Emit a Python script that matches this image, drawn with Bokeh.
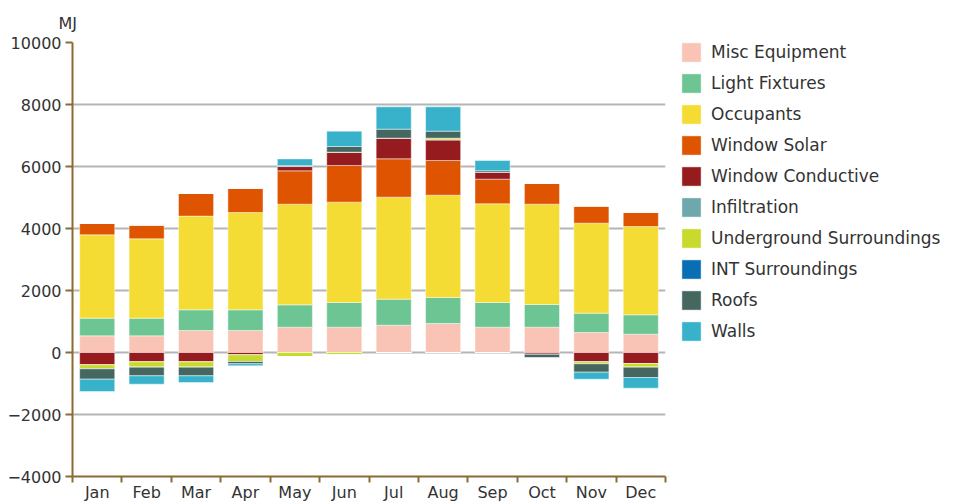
from bokeh.plotting import figure
from bokeh.layouts import row
from bokeh.models import (Range1d, FixedTicker, CustomJSTickFormatter, Legend,
                          LegendItem, ColumnDataSource)
from bokeh.embed import file_html
from bokeh.resources import INLINE

months = ["Jan", "Feb", "Mar", "Apr", "May", "Jun", "Jul", "Aug", "Sep", "Oct", "Nov", "Dec"]

misc_equipment = [537, 537, 710, 710, 817, 817, 882, 935, 817, 817, 645, 591]
light_fixtures = [570, 570, 667, 667, 720, 796, 839, 839, 796, 731, 624, 624]
occupants = [2690, 2560, 3023, 3139, 3247, 3237, 3290, 3301, 3183, 3237, 2903, 2849]
window_solar = [376, 450, 729, 787, 1075, 1183, 1237, 1118, 796, 677, 559, 452]
window_conductive = [-398, -301, -301, -75, 140, 430, 667, 667, 215, -60, -301, -355]
infiltration = [0, 0, 0, 0, 0, 0, 0, 0, 0, 0, 0, 0]
underground = [-129, -172, -172, -215, -130, -75, 0, 54, 0, 0, -65, -118]
int_surroundings = [0, 0, 0, 0, 0, 0, 0, 0, 0, 0, 0, 0]
roofs = [-333, -280, -280, -75, 30, 183, 290, 226, 54, -110, -269, -333]
walls = [-398, -269, -215, -65, 215, 495, 720, 785, 333, 0, -226, -344]

series_names = ["Misc Equipment", "Light Fixtures", "Occupants", "Window Solar",
                "Window Conductive", "Infiltration", "Underground Surroundings",
                "INT Surroundings", "Roofs", "Walls"]
series_values = [misc_equipment, light_fixtures, occupants, window_solar,
                 window_conductive, infiltration, underground, int_surroundings,
                 roofs, walls]
colors = ["#F9C3B5", "#6CC592", "#F5DC34", "#DE5400", "#961B1F", "#6FA8AC",
          "#C8DA2B", "#0A6EB5", "#456760", "#38B2CA"]

y_ticks = [-4000, -2000, 0, 2000, 4000, 6000, 8000, 10000]

FONT = "DejaVu Sans"
TEXT = "#333333"
AXIS = "#8B6B34"
H = 504
W = 965
WP = 668

data = {"x": list(range(len(months)))}
pos_keys, neg_keys = [], []
for i, vals in enumerate(series_values):
    pk, nk = f"s{i}_pos", f"s{i}_neg"
    data[pk] = [max(v, 0) for v in vals]
    data[nk] = [min(v, 0) for v in vals]
    pos_keys.append(pk)
    neg_keys.append(nk)
src = ColumnDataSource(data)

p = figure(width=WP, height=H, output_backend="svg", toolbar_location=None,
           x_range=Range1d(-0.5, len(months) - 0.5), y_range=Range1d(-4000, 10000),
           min_border_left=72, min_border_right=3, min_border_top=42,
           min_border_bottom=28)
p.outline_line_color = None
p.background_fill_color = "white"

bar_kw = dict(x="x", width=0.71, source=src, fill_color=colors,
              line_color="white", line_alpha=0.45, line_width=1)
pos_r = p.vbar_stack(pos_keys, **bar_kw)
neg_r = p.vbar_stack(neg_keys, **bar_kw)

# axes
p.xaxis.ticker = FixedTicker(ticks=list(range(len(months))),
                             minor_ticks=[i - 0.5 for i in range(len(months) + 1)])
p.xaxis.formatter = CustomJSTickFormatter(args=dict(months=months),
                                          code="return months[Math.round(tick)] || '';")
p.xaxis.major_tick_line_color = None
p.xaxis.major_tick_out = 0
p.xaxis.minor_tick_out = 6
p.xaxis.minor_tick_in = 0
p.xaxis.minor_tick_line_color = AXIS
p.xaxis.minor_tick_line_width = 2
p.xaxis.major_label_standoff = 0

p.yaxis.ticker = FixedTicker(ticks=y_ticks)
p.yaxis.major_tick_out = 7
p.yaxis.major_tick_in = 0
p.yaxis.major_tick_line_color = AXIS
p.yaxis.major_tick_line_width = 2
p.yaxis.minor_tick_line_color = None
p.yaxis.major_label_standoff = 4

for ax in (p.xaxis, p.yaxis):
    ax.axis_line_color = AXIS
    ax.axis_line_width = 2
    ax.major_label_text_font = FONT
    ax.major_label_text_font_size = "16px"
    ax.major_label_text_color = TEXT

p.xgrid.visible = False
p.ygrid.ticker = FixedTicker(ticks=y_ticks)
p.ygrid.grid_line_color = "#B5B5B5"
p.ygrid.grid_line_width = 2

# unit title
p.title.text = "MJ"
p.title.align = "left"
p.title.offset = -14
p.title.standoff = 20
p.title.text_line_height = 1.0
p.title.text_font = FONT
p.title.text_font_size = "16px"
p.title.text_font_style = "normal"
p.title.text_color = TEXT

# legend lives in its own small figure placed to the right;
# its swatch renderers hold one point each, placed outside the visible range
lf = figure(width=W - WP, height=H, output_backend="svg", toolbar_location=None,
            x_range=Range1d(0, 1), y_range=Range1d(0, 1),
            x_axis_type=None, y_axis_type=None, min_border=0)
lf.outline_line_color = None
lf.grid.visible = False
swatches = [lf.vbar(x=[-10], top=[-10], width=0.5, fill_color=c, line_color="white",
                    line_alpha=0.45, line_width=1) for c in colors]
legend = Legend(items=[LegendItem(label=n, renderers=[swatches[i]])
                       for i, n in enumerate(series_names)],
                location=(11, H - 39 - 303 - 29), orientation="vertical",
                glyph_width=24, glyph_height=24, label_height=24, spacing=7,
                label_standoff=8, padding=0, margin=0,
                border_line_color=None, background_fill_alpha=0,
                label_text_font=FONT, label_text_font_size="17px",
                label_text_color=TEXT)
lf.add_layout(legend, "center")

layout = row(p, lf, spacing=0)
open("out.html", "w").write(file_html(layout, INLINE))
